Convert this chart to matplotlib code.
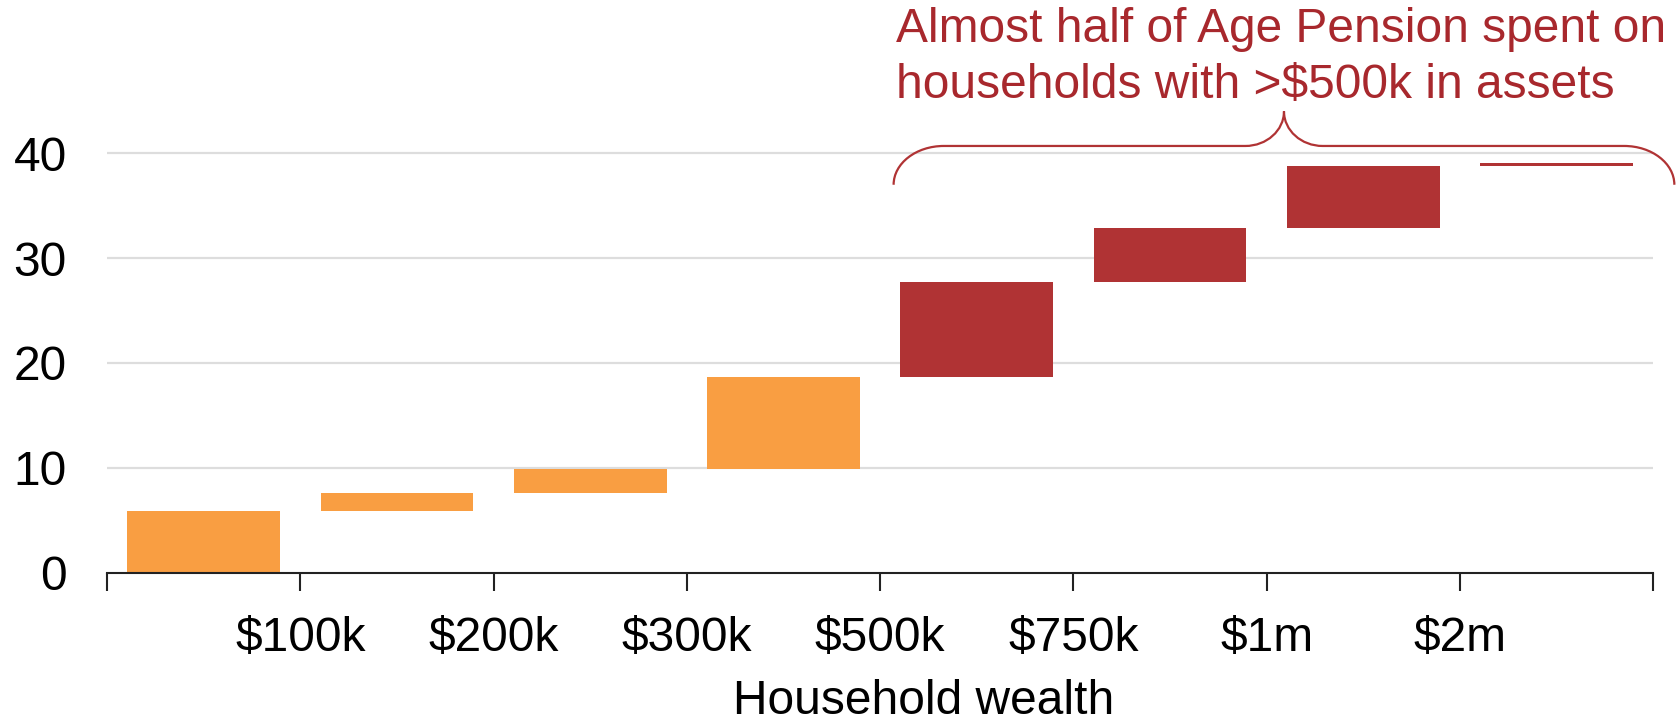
import matplotlib
matplotlib.use("Agg")
import matplotlib.pyplot as plt
import numpy as np
from matplotlib.path import Path
from matplotlib.patches import PathPatch

# Share of Age Pension spending added by each household-wealth band (%)
increments = [5.9, 1.7, 2.3, 8.8, 9.0, 5.2, 5.9, 0.26]
# Bands at or above $500k are highlighted
highlight = [False, False, False, False, True, True, True, True]
boundary_labels = ["", "$100k", "$200k", "$300k", "$500k", "$750k", "$1m", "$2m", ""]
y_ticks = [0, 10, 20, 30, 40]

ORANGE = "#F99E42"
RED = "#B03334"
TEXT_RED = "#A8282D"
GRID = "#DDDDDD"
FS = 34.5

plt.rcParams["font.family"] = ["Liberation Sans", "DejaVu Sans"]

W, H = 1681, 717
fig = plt.figure(figsize=(W / 100, H / 100), dpi=100)
ax = fig.add_axes([0.0637, 0.2013, 0.9197, 0.658])

ends = np.cumsum(increments)
starts = ends - np.array(increments)
centers = np.arange(len(increments)) + 0.5
colors = [RED if h else ORANGE for h in highlight]

for yv in y_ticks[1:]:
    ax.axhline(yv, color=GRID, lw=1.6, zorder=0)

ax.bar(centers, increments, bottom=starts, width=0.79, color=colors,
       linewidth=0, zorder=2)

ax.set_xlim(0, len(increments))
ax.set_ylim(0, 45)
ax.set_yticks(y_ticks)
ax.set_yticklabels([str(v) for v in y_ticks])
ax.set_xticks(np.arange(len(boundary_labels)))
ax.set_xticklabels(boundary_labels)

for s in ["top", "right", "left"]:
    ax.spines[s].set_visible(False)
ax.spines["bottom"].set_linewidth(1.5)
ax.spines["bottom"].set_color("#222222")

ax.tick_params(axis="y", length=0, pad=29, labelsize=FS)
ax.tick_params(axis="x", length=13, width=1.5, color="#222222",
               pad=18, labelsize=FS, direction="out")

fig.text(924 / W, 3.5 / H, "Household wealth", fontsize=FS,
         ha="center", va="baseline", color="black")

# Curly brace over the bands from $500k upward
x0, x1 = 4.07, 8.11
xm = (x0 + x1) / 2
yb, yh, ya = 37.0, 40.7, 44.0
k = 0.552
re = 0.26   # horizontal reach of the end curls
rm = 0.20   # horizontal reach of the central cusp
verts = [
    (x0, yb),
    (x0, yb + k * (yh - yb)), (x0 + re * (1 - k), yh), (x0 + re, yh),
    (xm - rm, yh),
    (xm - rm + k * rm, yh), (xm, ya - k * (ya - yh)), (xm, ya),
    (xm, ya - k * (ya - yh)), (xm + rm - k * rm, yh), (xm + rm, yh),
    (x1 - re, yh),
    (x1 - re * (1 - k), yh), (x1, yb + k * (yh - yb)), (x1, yb),
]
codes = [Path.MOVETO,
         Path.CURVE4, Path.CURVE4, Path.CURVE4,
         Path.LINETO,
         Path.CURVE4, Path.CURVE4, Path.CURVE4,
         Path.CURVE4, Path.CURVE4, Path.CURVE4,
         Path.LINETO,
         Path.CURVE4, Path.CURVE4, Path.CURVE4]
brace = PathPatch(Path(verts, codes), facecolor="none", edgecolor=RED,
                  lw=1.6, clip_on=False, zorder=3)
ax.add_patch(brace)

fig.text(896 / W, 1 - 42.3 / H, "Almost half of Age Pension spent on",
         color=TEXT_RED, fontsize=FS, ha="left", va="baseline")
fig.text(896 / W, 1 - 97.7 / H, "households with >$500k in assets",
         color=TEXT_RED, fontsize=FS, ha="left", va="baseline")

fig.savefig("out.png", dpi=100)
